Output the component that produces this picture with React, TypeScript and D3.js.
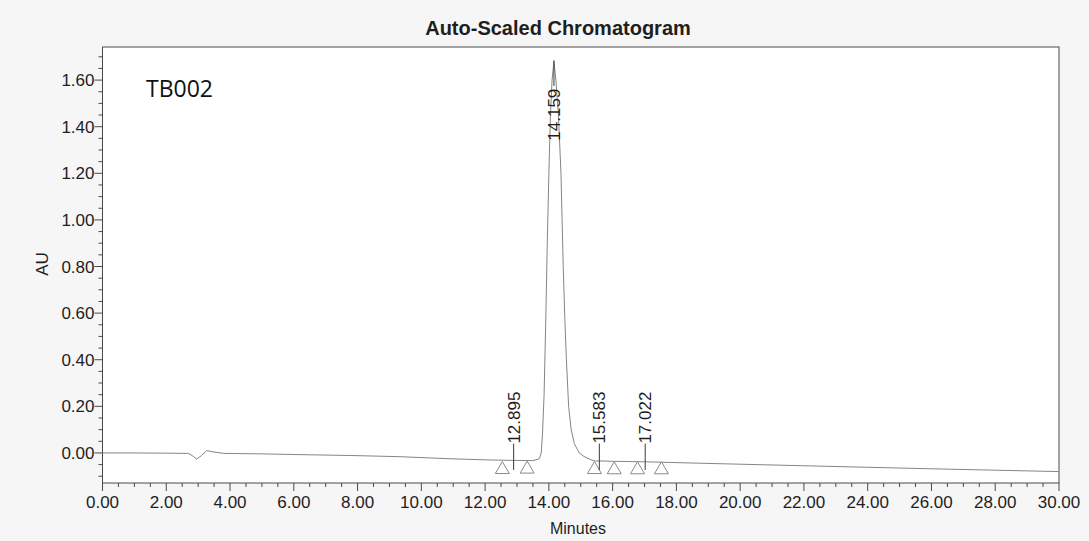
import React from "react";
import * as d3 from "d3";

// ---- data ----
const traceTime = [
  0, 1, 2, 2.7, 2.85, 2.95, 3.1, 3.27, 3.45, 3.8, 5, 6.5, 7.8, 9.3, 10.9, 12.1,
  12.9, 13.5, 13.7, 13.76, 13.8, 13.85, 13.9, 13.95, 14.0, 14.05, 14.1, 14.159,
  14.22, 14.3, 14.38, 14.45, 14.5, 14.55, 14.62, 14.7, 14.8, 14.95, 15.1, 15.3,
  15.45, 15.583, 16.0, 17.0, 18.7, 22, 26, 30,
];
const traceAU = [
  0.0, 0.0, -0.001, -0.002, -0.015, -0.026, -0.012, 0.01, 0.005, -0.002, -0.004,
  -0.008, -0.011, -0.016, -0.025, -0.03, -0.032, -0.033, -0.025, 0.0, 0.08, 0.25,
  0.55, 0.9, 1.2, 1.45, 1.6, 1.68, 1.6, 1.45, 1.2, 0.8, 0.58, 0.4, 0.2, 0.1,
  0.04, 0.0, -0.015, -0.028, -0.035, -0.034, -0.036, -0.038, -0.044, -0.055,
  -0.068, -0.08,
];

const peakRT = [12.895, 14.159, 15.583, 17.022];
const peakLabels = ["12.895", "14.159", "15.583", "17.022"];
const labelStartAU = [0.04, 1.34, 0.04, 0.04];
const lineFromAU = [0.04, 1.575, 0.04, 0.04];
const lineToAU = [-0.073, 1.685, -0.073, -0.073];

const markerTime = [12.54, 13.32, 15.43, 16.05, 16.78, 17.53];
const markerAU = [-0.037, -0.035, -0.037, -0.038, -0.038, -0.038];

const xTickLabels = d3.range(0, 30.001, 2);
const yTickLabels = [0, 0.2, 0.4, 0.6, 0.8, 1.0, 1.2, 1.4, 1.6];
const xDomain = [0, 30];
const yDomain = [-0.129, 1.742];

const title = "Auto-Scaled Chromatogram";
const sampleName = "TB002";
const xTitle = "Minutes";
const yTitle = "AU";

export default function App() {
  const W = 1089;
  const H = 541;
  const left = 102.5;
  const right = 1059;
  const top = 47;
  const bottom = 483;

  const x = d3.scaleLinear().domain(xDomain).range([left, right]);
  const y = d3.scaleLinear().domain(yDomain).range([bottom, top]);

  const pts = traceTime.map((t, i) => [t, traceAU[i]] as [number, number]);
  const line = d3
    .line<[number, number]>()
    .x((d) => x(d[0]))
    .y((d) => y(d[1]));

  const xMinor = d3.range(0, 30.001, 0.5);
  const yMinor = d3.range(-0.1, 1.7001, 0.05);

  const font = "'Liberation Sans', Arial, sans-serif";
  const axisColor = "#4a4a4a";
  const textColor = "#1e1e1e";

  return (
    <svg
      width={W}
      height={H}
      style={{ position: "fixed", left: 0, top: 0, background: "#f6f6f6" }}
    >
      <rect x={left} y={top} width={right - left} height={bottom - top} fill="#ffffff" />

      {/* title */}
      <text
        x={558}
        y={35}
        textAnchor="middle"
        fontFamily={font}
        fontWeight="bold"
        fontSize={20}
        fill={textColor}
      >
        {title}
      </text>

      {/* frame */}
      <rect
        x={left}
        y={top}
        width={right - left}
        height={bottom - top}
        fill="none"
        stroke={axisColor}
        strokeWidth={1}
      />

      {/* x ticks */}
      {xMinor.map((v, i) => {
        const major = Math.abs(v % 2) < 1e-6;
        return (
          <line
            key={"xt" + i}
            x1={x(v)}
            x2={x(v)}
            y1={bottom}
            y2={bottom + (major ? 8 : 4)}
            stroke={axisColor}
            strokeWidth={1}
          />
        );
      })}
      {xTickLabels.map((v, i) => (
        <text
          key={"xl" + i}
          x={x(v)}
          y={508}
          textAnchor="middle"
          fontFamily={font}
          fontSize={17}
          fill={textColor}
        >
          {v.toFixed(2)}
        </text>
      ))}

      {/* y ticks */}
      {yMinor.map((v, i) => {
        const major = Math.abs(Math.round(v * 100) % 20) === 0;
        return (
          <line
            key={"yt" + i}
            x1={left - (major ? 8 : 4)}
            x2={left}
            y1={y(v)}
            y2={y(v)}
            stroke={axisColor}
            strokeWidth={1}
          />
        );
      })}
      {yTickLabels.map((v, i) => (
        <text
          key={"yl" + i}
          x={left - 8}
          y={y(v)}
          dy="0.36em"
          textAnchor="end"
          fontFamily={font}
          fontSize={17}
          fill={textColor}
        >
          {v.toFixed(2)}
        </text>
      ))}

      {/* axis titles */}
      <text
        transform={`translate(42, 264) rotate(-90)`}
        textAnchor="middle"
        dy="0.36em"
        fontFamily={font}
        fontSize={17}
        fill={textColor}
      >
        {yTitle}
      </text>
      <text
        x={578}
        y={534}
        textAnchor="middle"
        fontFamily={font}
        fontSize={16}
        fill={textColor}
      >
        {xTitle}
      </text>

      {/* sample name */}
      <text x={146} y={97} fontFamily="'Open Sans', sans-serif" fontSize={23} fill="#111">
        {sampleName}
      </text>

      {/* trace */}
      <path d={line(pts) || ""} fill="none" stroke="#858585" strokeWidth={1} />

      {/* peak start/end markers */}
      {markerTime.map((t, i) => {
        const cx = x(t);
        const cy = y(markerAU[i]);
        return (
          <path
            key={"m" + i}
            d={`M${cx},${cy} L${cx + 7},${cy + 12} L${cx - 7},${cy + 12} Z`}
            fill="none"
            stroke="#8a8a8a"
            strokeWidth={1}
          />
        );
      })}

      {/* peak labels */}
      {peakRT.map((t, i) => (
        <g key={"p" + i}>
          <line
            x1={x(t)}
            x2={x(t)}
            y1={y(lineFromAU[i])}
            y2={y(lineToAU[i])}
            stroke="#3a3a3a"
            strokeWidth={1}
          />
          <text
            transform={`translate(${x(t)}, ${y(labelStartAU[i])}) rotate(-90)`}
            dy="0.36em"
            fontFamily={font}
            fontSize={17}
            fill={textColor}
          >
            {peakLabels[i]}
          </text>
        </g>
      ))}
    </svg>
  );
}
